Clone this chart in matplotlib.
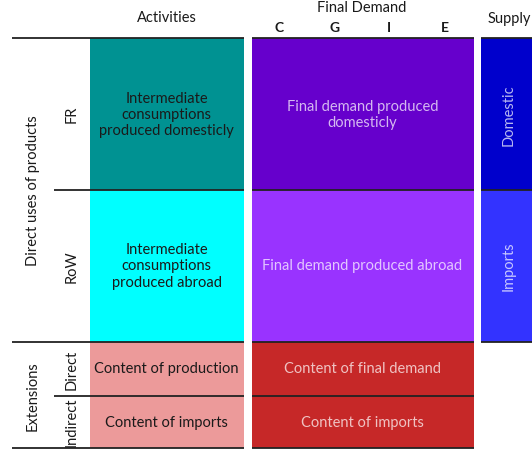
import matplotlib.pyplot as plt
from matplotlib.patches import Rectangle

plt.rcParams['font.family'] = ['Lato', 'DejaVu Sans']

# block texts and colours
block_labels = [
    "Intermediate\nconsumptions\nproduced domesticly",
    "Intermediate\nconsumptions\nproduced abroad",
    "Content of production",
    "Content of imports",
    "Final demand produced\ndomesticly",
    "Final demand produced abroad",
    "Content of final demand",
    "Content of imports",
    "Domestic",
    "Imports",
]
block_colors = ["#009292", "#00FFFF", "#EC9A9A", "#EC9A9A",
                "#6600CC", "#9933FF", "#C62828", "#C62828",
                "#0000CC", "#3333FF"]
fd_letters = ["C", "G", "I", "E"]
row_labels = ["FR", "RoW", "Direct", "Indirect"]
group_labels = ["Direct uses of products", "Extensions"]

# layout in pixels (y goes down)
W, H = 532, 452
rows = [39, 190.5, 342.5, 396.5, 449]
act_x = (90, 243.5)
fd_x = (251.5, 473.5)
sup_x = (481, 540)
FS = 10.5

fig = plt.figure(figsize=(W / 100, H / 100), dpi=100)
ax = fig.add_axes([0, 0, 1, 1])
ax.set_xlim(0, W)
ax.set_ylim(H, 0)
ax.axis("off")

dark = "#1a1a1a"
light = (1, 1, 1, 0.72)

def block(x0, x1, y0, y1, color, text, tcolor, rot=0):
    ax.add_patch(Rectangle((x0, y0), x1 - x0, y1 - y0, facecolor=color,
                           edgecolor="none", zorder=1))
    ax.text((x0 + x1) / 2, (y0 + y1) / 2, text, color=tcolor, fontsize=FS,
            ha="center", va="center", rotation=rot, linespacing=1.2,
            multialignment="center", zorder=3)

# activities column
for i in range(4):
    block(act_x[0], act_x[1], rows[i], rows[i + 1], block_colors[i],
          block_labels[i], dark)
# final demand column
fd_rows = [(rows[0], rows[1]), (rows[1], rows[2]),
           (rows[2], rows[3]), (rows[3], rows[4])]
for i, (y0, y1) in enumerate(fd_rows):
    block(fd_x[0], fd_x[1], y0, y1, block_colors[4 + i],
          block_labels[4 + i], light)
# supply column
for i in range(2):
    block(sup_x[0], sup_x[1] - 4, rows[i], rows[i + 1], block_colors[8 + i],
          "", light)
    ax.text((sup_x[0] + W) / 2 + 2, (rows[i] + rows[i + 1]) / 2,
            block_labels[8 + i], color=light, fontsize=FS, rotation=90,
            ha="center", va="center", zorder=3)

# horizontal rules
lw = 1.3
for k, y in enumerate(rows):
    left = 12 if k in (0, 2, 4) else 54
    ax.plot([left, act_x[1]], [y, y], color="#222222", lw=lw, zorder=4,
            solid_capstyle="butt")
    ax.plot([fd_x[0], fd_x[1]], [y, y], color="#222222", lw=lw, zorder=4,
            solid_capstyle="butt")
for y in rows[:3]:
    ax.plot([sup_x[0], W], [y, y], color="#222222", lw=lw, zorder=4,
            solid_capstyle="butt")

# headers
ax.text(167, 18, "Activities", fontsize=FS, ha="center", va="center",
        color=dark)
ax.text(362, 8, "Final Demand", fontsize=FS, ha="center", va="center",
        color=dark)
for lx, letter in zip([279, 335, 389, 445], fd_letters):
    ax.text(lx, 28.5, letter, fontsize=FS - 0.5, ha="center", va="center",
            color=dark, fontweight="bold")
ax.text(509, 19, "Supply", fontsize=FS, ha="center", va="center",
        color=dark)

# row labels
for k, lab in enumerate(row_labels):
    ax.text(72, (rows[k] + rows[k + 1]) / 2, lab, fontsize=FS, rotation=90,
            ha="center", va="center", color=dark)
ax.text(33, (rows[0] + rows[2]) / 2, group_labels[0], fontsize=FS,
        rotation=90, ha="center", va="center", color=dark)
ax.text(33, (rows[2] + rows[4]) / 2, group_labels[1], fontsize=FS,
        rotation=90, ha="center", va="center", color=dark)

fig.savefig("out.png", dpi=100)
